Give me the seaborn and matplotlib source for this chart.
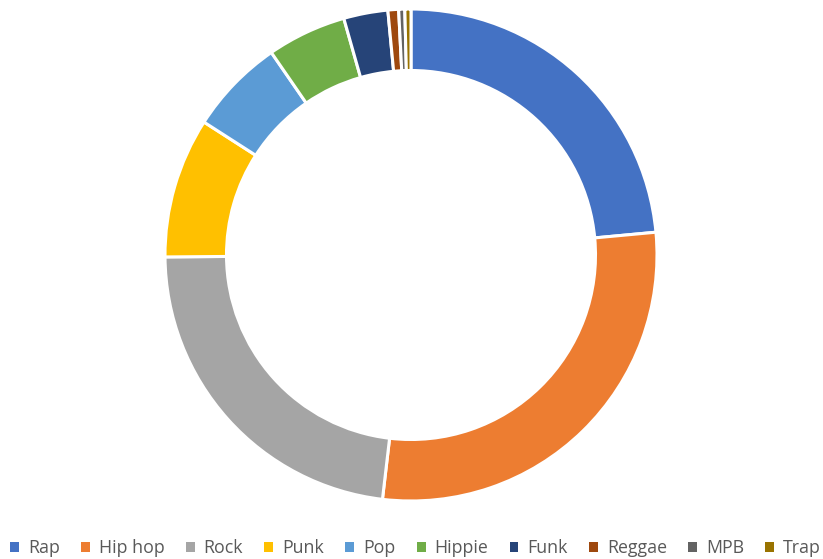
import matplotlib
matplotlib.use("Agg")
import matplotlib.pyplot as plt
from matplotlib.patches import Patch
import seaborn as sns

# Genre shares (percent), listed clockwise from 12 o'clock
genres = ["Rap", "Hip hop", "Rock", "Punk", "Pop", "Hippie", "Funk", "Reggae", "MPB", "Trap"]
shares = [23.5, 28.3, 23.0, 9.2, 6.3, 5.2, 2.9, 0.7, 0.4, 0.4]
colors = ["#4472C4", "#ED7D31", "#A5A5A5", "#FFC000", "#5B9BD5",
          "#70AD47", "#264478", "#9E480E", "#636363", "#997300"]

sns.set_theme(style="white")
plt.rcParams["font.family"] = ["Open Sans", "DejaVu Sans"]
palette = sns.color_palette(colors)

W, H = 823, 559
fig = plt.figure(figsize=(W / 100, H / 100), dpi=100)
fig.patch.set_facecolor("white")

# Ring centred at (411, 255) px with an outer radius of ~246 px
cx, cy, half, r = 411, 255, 250, 246
ax = fig.add_axes([(cx - half) / W, (H - cy - half) / H, 2 * half / W, 2 * half / H])
ax.pie(shares, colors=palette, startangle=90, counterclock=False, radius=1.0,
       wedgeprops=dict(width=0.25, edgecolor="white", linewidth=2.2))
lim = half / r
ax.set_xlim(-lim, lim)
ax.set_ylim(-lim, lim)
ax.set_aspect("equal")
ax.axis("off")

handles = [Patch(facecolor=c, edgecolor="none", label=g) for g, c in zip(genres, palette)]
fig.legend(handles=handles, loc="center", bbox_to_anchor=(0.5 + 4 / W, 1 - 548 / H), ncol=len(genres),
           frameon=False, fontsize=12.8, labelcolor="#595959", handlelength=0.5, handleheight=0.5,
           handletextpad=0.5, columnspacing=1.2, borderaxespad=0)

fig.savefig("out.png", dpi=100, facecolor="white")
